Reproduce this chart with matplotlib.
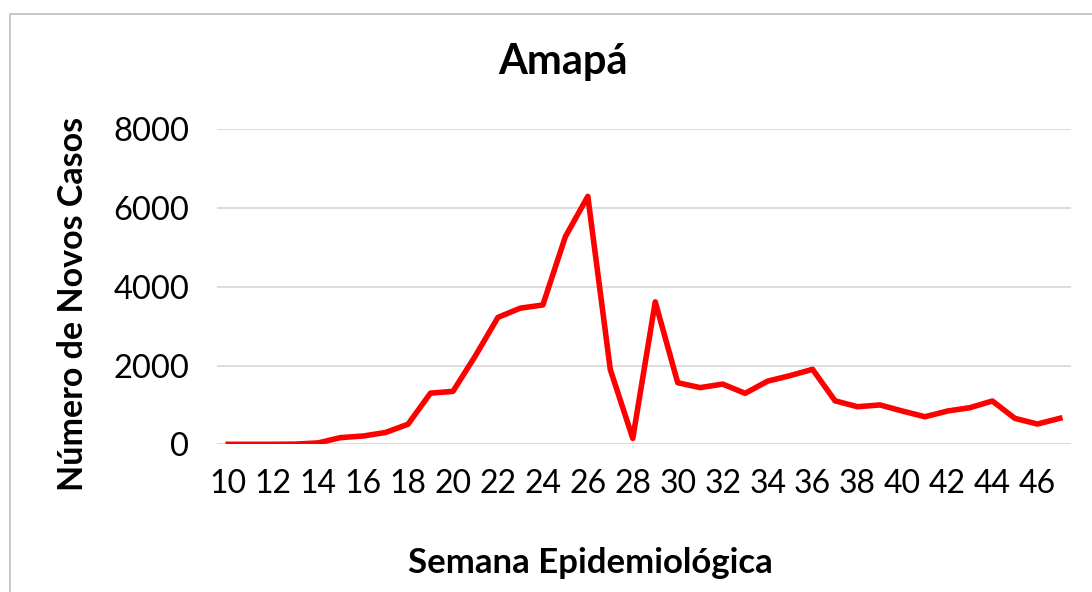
import matplotlib.pyplot as plt
from matplotlib.patches import Rectangle

# semanas epidemiologicas e novos casos
semanas = list(range(10, 48))
novos_casos = [0, 0, 0, 5, 35, 170, 210, 300, 510, 1300, 1345, 2250, 3225, 3460, 3540,
               5275, 6300, 1900, 150, 3620, 1565, 1440, 1530, 1295, 1605, 1745, 1905,
               1105, 955, 1000, 845, 700, 845, 930, 1100, 660, 515, 660]
ticks_x = list(range(10, 47, 2))
ticks_y = [0, 2000, 4000, 6000, 8000]

plt.rcParams['font.family'] = ['Lato', 'DejaVu Sans']

fig = plt.figure(figsize=(10.92, 5.92), dpi=100)
fig.patch.set_facecolor('white')

# cornice grigia del grafico (esce a destra e in basso)
fig.patches.append(Rectangle((10 / 1092, -0.05), 1.2, 1 - 14 / 592 + 0.05,
                             transform=fig.transFigure, fill=False,
                             edgecolor='#BFBFBF', linewidth=1.2))

ax = fig.add_axes([0.1987, 0.2495, 0.9808 - 0.1987, 0.7813 - 0.2495])
ax.plot(semanas, novos_casos, color='#FF0000', linewidth=4)

ax.set_xlim(9.5, 47.5)
ax.set_ylim(0, 8000)
ax.set_xticks(ticks_x)
ax.set_xticklabels([str(t) for t in ticks_x], fontsize=23)
ax.set_yticks(ticks_y)
ax.set_yticklabels([str(t) for t in ticks_y], fontsize=23.5)
ax.tick_params(axis='both', length=0)
ax.tick_params(axis='x', pad=18)
ax.tick_params(axis='y', pad=20)

for s in ax.spines.values():
    s.set_visible(False)
ax.grid(axis='y', color='#D9D9D9', linewidth=1.3)
ax.set_axisbelow(True)

fig.text(563 / 1092, 1 - 62 / 592, 'Amapá', ha='center', va='center',
         fontsize=30, fontweight='bold')
fig.text(73 / 1092, 1 - 304 / 592, 'Número de Novos Casos', ha='center', va='center',
         rotation=90, fontsize=24.5, fontweight='bold')
fig.text(590 / 1092, 1 - 563 / 592, 'Semana Epidemiológica', ha='center', va='center',
         fontsize=25, fontweight='bold')

fig.savefig('out.png', dpi=100)
